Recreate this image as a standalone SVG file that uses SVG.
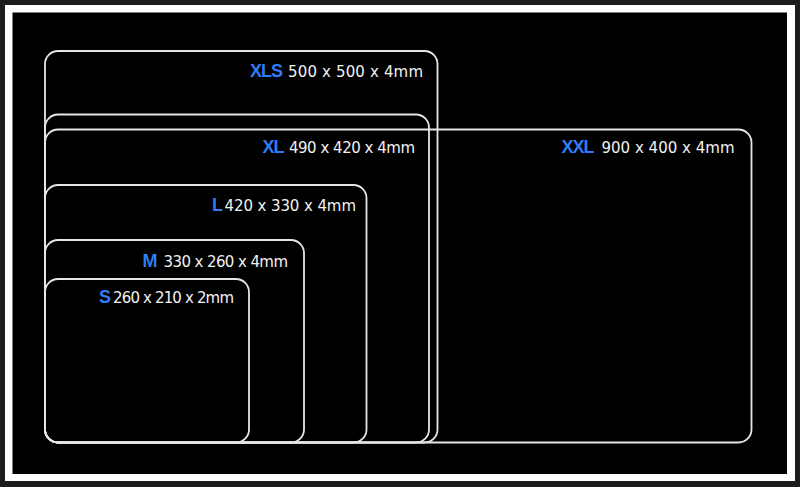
<svg xmlns="http://www.w3.org/2000/svg" width="800" height="487" viewBox="0 0 800 487">
<style>
.pad{fill:none;stroke:#e6e6e6;stroke-width:1.8}
.lbl{font-family:"Liberation Sans",Arial,sans-serif;font-weight:bold;font-size:18px;fill:#2f7df6;letter-spacing:-1px}
.dim{font-family:"DejaVu Sans",sans-serif;font-size:15px;fill:#f2f2f2}
</style>
<rect x="0" y="0" width="800" height="487" fill="#1c1c1c"/>
<rect x="5" y="5" width="790" height="476" fill="#ffffff"/>
<rect x="12.5" y="12.5" width="774.5" height="461.5" fill="#000000"/>
<g id="connectors"/>
<g id="XLS">
<rect class="pad" x="45" y="51" width="392.5" height="391.5" rx="13"/>
<text><tspan class="lbl" x="250" y="77">XLS</tspan><tspan class="dim" x="288" y="77" textLength="135">500 x 500 x 4mm</tspan></text>
</g>
<g id="XL">
<rect class="pad" x="45" y="114.5" width="384" height="328" rx="13"/>
<text><tspan class="lbl" x="262.5" y="152.5">XL</tspan><tspan class="dim" x="289" y="152.5" textLength="126">490 x 420 x 4mm</tspan></text>
</g>
<g id="XXL">
<rect class="pad" x="45" y="129.5" width="706.5" height="313" rx="13"/>
<text><tspan class="lbl" x="561.5" y="152.5">XXL</tspan><tspan class="dim" x="601.5" y="152.5" textLength="133">900 x 400 x 4mm</tspan></text>
</g>
<g id="L">
<rect class="pad" x="45" y="185" width="321.5" height="257.5" rx="13"/>
<text><tspan class="lbl" x="212" y="211">L</tspan><tspan class="dim" x="224.5" y="211" textLength="131.5">420 x 330 x 4mm</tspan></text>
</g>
<g id="M">
<rect class="pad" x="45" y="240" width="259" height="202.5" rx="13"/>
<text><tspan class="lbl" x="142.5" y="266.5">M</tspan><tspan class="dim" x="163.5" y="266.5" textLength="124.5">330 x 260 x 4mm</tspan></text>
</g>
<g id="S">
<rect class="pad" x="45" y="279" width="204" height="163.5" rx="13"/>
<text><tspan class="lbl" x="99" y="303">S</tspan><tspan class="dim" x="113" y="303" textLength="121">260 x 210 x 2mm</tspan></text>
</g>
</svg>
